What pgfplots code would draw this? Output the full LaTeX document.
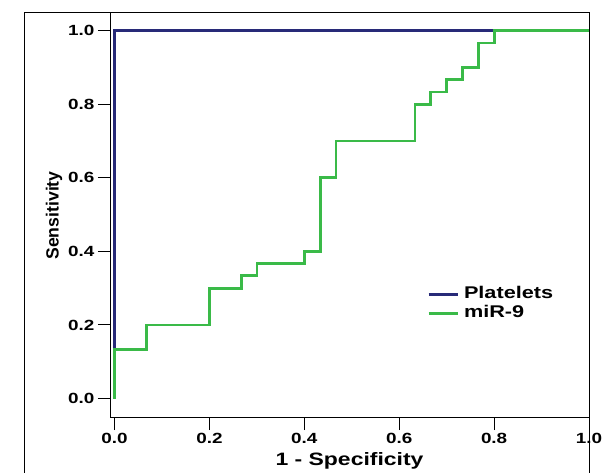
\documentclass[border=0pt]{standalone}
\usepackage{fontspec}
\setmainfont{Liberation Sans}[FakeStretch=1.28]
\newfontfamily\plainfont{Liberation Sans}
\usepackage{pgfplots}
\pgfplotsset{compat=1.18}
\definecolor{platblue}{RGB}{40,42,120}
\definecolor{mirgreen}{RGB}{58,186,72}
\begin{document}
\begin{tikzpicture}
\useasboundingbox (0,0) rectangle (610bp,473bp);
\draw[line width=1bp] (24.6bp,-5bp) -- (24.6bp,460bp) -- (589bp,460bp) -- (589bp,-5bp);
\begin{axis}[
  at={(110bp,55bp)}, anchor=south west,
  width=479bp, height=405bp, scale only axis,
  xmin=-0.0097, xmax=1.0, ymin=-0.053, ymax=1.048,
  axis line style={line width=1bp},
  tick pos=left, tick align=outside,
  major tick length=12bp,
  every tick/.style={black, line width=1bp},
  xtick={0,0.2,0.4,0.6,0.8,1.0},
  ytick={0,0.2,0.4,0.6,0.8,1.0},
  xticklabels={0.0,0.2,0.4,0.6,0.8,1.0},
  yticklabels={0.0,0.2,0.4,0.6,0.8,1.0},
  tick label style={font=\fontsize{14.8}{16}\selectfont\bfseries},
  xlabel={1 - Specificity},
  ylabel={Sensitivity},
  xlabel style={at={(axis description cs:0.5,-0.1185)}, anchor=base, font=\fontsize{18}{20}\selectfont\bfseries},
  ylabel style={at={(axis description cs:-0.117,0.5)}, anchor=center, font=\plainfont\fontsize{17.7}{20}\selectfont\bfseries},
  legend style={at={(axis description cs:0.6618,0.3243)}, anchor=north west, draw=none, fill=none,
    font=\fontsize{17}{19}\selectfont\bfseries, inner sep=0pt, row sep=4bp,
    nodes={inner sep=0pt, text height=12bp, text depth=3bp}},
  legend cell align=left,
  legend image code/.code={\draw[#1] (0bp,0bp) -- (29bp,0bp); \path (34bp,0bp);},
]
\addplot[platblue, line width=2.5bp] coordinates {(0,0) (0,1) (1,1)};
\addlegendentry{Platelets}
\addplot[mirgreen, line width=2.8bp] coordinates {
(0,0) (0,0.1333) (0.0667,0.1333) (0.0667,0.2) (0.2,0.2) (0.2,0.3)
(0.2667,0.3) (0.2667,0.3333) (0.3,0.3333) (0.3,0.3667) (0.4,0.3667)
(0.4,0.4) (0.4333,0.4) (0.4333,0.6) (0.4667,0.6) (0.4667,0.7)
(0.6333,0.7) (0.6333,0.8) (0.6667,0.8) (0.6667,0.8333) (0.7,0.8333)
(0.7,0.8667) (0.7333,0.8667) (0.7333,0.9) (0.7667,0.9) (0.7667,0.9667)
(0.8,0.9667) (0.8,1) (1,1)};
\addlegendentry{miR-9}
\end{axis}
\end{tikzpicture}
\end{document}
